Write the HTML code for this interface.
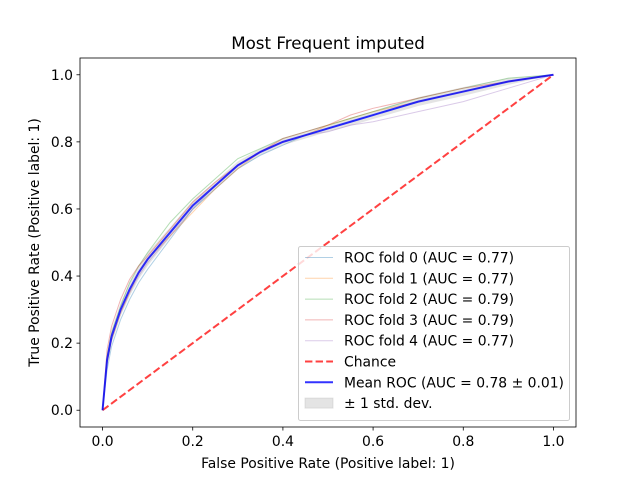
<!DOCTYPE html>
<html><head><meta charset="utf-8"><style>
body{margin:0;background:#fff}
svg text{font-family:"DejaVu Sans",sans-serif;fill:#000}
</style></head><body>
<svg id="c" width="640" height="480" xmlns="http://www.w3.org/2000/svg"></svg>
<script>
const fpr=[0,0.01,0.02,0.04,0.06,0.08,0.1,0.15,0.2,0.25,0.3,0.35,0.4,0.45,0.5,0.55,0.6,0.7,0.8,0.9,1];
const meanTpr=[0,0.15,0.22,0.3,0.36,0.41,0.45,0.53,0.61,0.67,0.73,0.77,0.8,0.82,0.84,0.86,0.88,0.92,0.95,0.98,1];
const fold0=[0,0.12,0.19,0.27,0.33,0.38,0.42,0.51,0.6,0.66,0.72,0.76,0.79,0.82,0.84,0.86,0.88,0.92,0.95,0.98,1];
const fold1=[0,0.14,0.21,0.29,0.35,0.41,0.45,0.52,0.59,0.66,0.72,0.77,0.8,0.82,0.85,0.87,0.89,0.92,0.95,0.98,1];
const fold2=[0,0.16,0.23,0.31,0.38,0.43,0.47,0.56,0.63,0.69,0.75,0.78,0.81,0.83,0.85,0.87,0.89,0.93,0.96,0.99,1];
const fold3=[0,0.18,0.25,0.33,0.39,0.43,0.46,0.54,0.62,0.68,0.73,0.77,0.81,0.83,0.85,0.88,0.9,0.93,0.96,0.98,1];
const fold4=[0,0.14,0.21,0.29,0.35,0.4,0.44,0.52,0.6,0.67,0.73,0.77,0.8,0.82,0.83,0.85,0.86,0.89,0.92,0.96,1];
const meanStd=[0,0.02,0.02,0.02,0.02,0.02,0.02,0.015,0.015,0.012,0.012,0.01,0.01,0.01,0.01,0.012,0.012,0.013,0.013,0.01,0];
const ticks=[0,0.2,0.4,0.6,0.8,1.0];
const tickLabels=["0.0","0.2","0.4","0.6","0.8","1.0"];
const legendLabels=["ROC fold 0 (AUC = 0.77)","ROC fold 1 (AUC = 0.77)","ROC fold 2 (AUC = 0.79)","ROC fold 3 (AUC = 0.79)","ROC fold 4 (AUC = 0.77)","Chance","Mean ROC (AUC = 0.78 ± 0.01)","± 1 std. dev."];
const L=80,R=576,T=58,B=427;
const X=v=>L+(v+0.05)/1.1*(R-L);
const Y=v=>B-(v+0.05)/1.1*(B-T);
const svg=document.getElementById('c');
const NS='http://www.w3.org/2000/svg';
function mk(t,a,p){const e=document.createElementNS(NS,t);for(const k in a)e.setAttribute(k,a[k]);(p||svg).appendChild(e);return e;}
let e;
let pts=fpr.map((f,i)=>X(f)+','+Y(Math.min(1,meanTpr[i]+meanStd[i]))).concat(fpr.slice().reverse().map((f,j)=>{const i=fpr.length-1-j;return X(f)+','+Y(Math.max(0,meanTpr[i]-meanStd[i]));}));
e=mk('polygon',{points:pts.join(' '),fill:'#bbb','fill-opacity':0.4});

const colors=['#1f77b4','#ff7f0e','#2ca02c','#d62728','#9467bd'];
[fold0,fold1,fold2,fold3,fold4].forEach((fd,k)=>{
 e=mk('polyline',{points:fpr.map((f,i)=>X(f)+','+Y(fd[i])).join(' '),fill:'none',stroke:colors[k],'stroke-opacity':0.35,'stroke-width':1});
 
});
e=mk('line',{x1:X(0),y1:Y(0),x2:X(1),y2:Y(1),stroke:'#ff2020','stroke-opacity':0.85,'stroke-width':2,'stroke-dasharray':'7.4,3.2'});

e=mk('polyline',{points:fpr.map((f,i)=>X(f)+','+Y(meanTpr[i])).join(' '),fill:'none',stroke:'#0000ff','stroke-opacity':0.8,'stroke-width':2});

e=mk('rect',{x:L,y:T,width:R-L,height:B-T,fill:'none',stroke:'#000','stroke-width':0.8});

ticks.forEach((t,i)=>{
 e=mk('line',{x1:X(t),x2:X(t),y1:B,y2:B+3.5,stroke:'#000','stroke-width':0.8});
 
 e=mk('text',{x:X(t),y:B+19,'font-size':13.9,'text-anchor':'middle'});e.textContent=tickLabels[i];
 
 e=mk('line',{x1:L-3.5,x2:L,y1:Y(t),y2:Y(t),stroke:'#000','stroke-width':0.8});
 
 e=mk('text',{x:L-7,y:Y(t)+5,'font-size':13.9,'text-anchor':'end'});e.textContent=tickLabels[i];
 
});
e=mk('text',{x:(L+R)/2,y:468,'font-size':13.9,'text-anchor':'middle'});e.textContent='False Positive Rate (Positive label: 1)';

e=mk('text',{x:0,y:0,'font-size':13.9,'text-anchor':'middle',transform:'translate(39,'+((T+B)/2)+') rotate(-90)'});e.textContent='True Positive Rate (Positive label: 1)';

e=mk('text',{x:(L+R)/2,y:49,'font-size':16.7,'text-anchor':'middle'});e.textContent='Most Frequent imputed';

const g=mk('g',{});
mk('rect',{x:298.5,y:246.5,width:271,height:174,rx:2,fill:'#fff','fill-opacity':0.8,stroke:'#ccc'},g);
legendLabels.forEach((lb,i)=>{
 const y=257.5+i*20.8;
 if(i<5)mk('line',{x1:305,x2:333,y1:y,y2:y,stroke:colors[i],'stroke-opacity':0.35},g);
 else if(i==5)mk('line',{x1:305,x2:333,y1:y,y2:y,stroke:'#ff2020','stroke-width':2,'stroke-dasharray':'7.4,3.2','stroke-opacity':0.85},g);
 else if(i==6)mk('line',{x1:305,x2:333,y1:y,y2:y,stroke:'#0000ff','stroke-width':2,'stroke-opacity':0.8},g);
 else mk('rect',{x:305,y:y-5,width:28,height:10,fill:'#bbb','fill-opacity':0.4,stroke:'#bbb','stroke-opacity':0.4},g);
 const t=mk('text',{x:344,y:y+5,'font-size':13.9},g);t.textContent=lb;
 
});
</script>
</body></html>
